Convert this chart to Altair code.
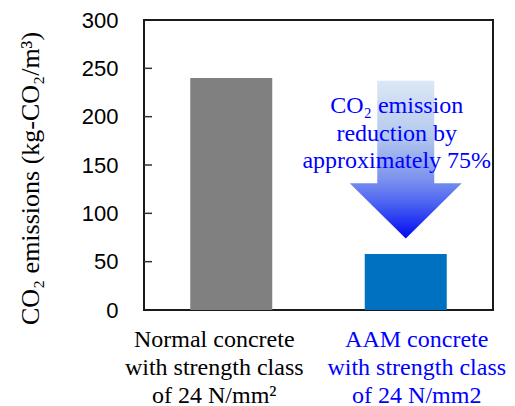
import altair as alt
import pandas as pd

# Concrete types (lines of each label separated by "|") and their CO2 emissions
categories = [
    "Normal concrete|with strength class|of 24 N/mm²",
    "AAM concrete|with strength class|of 24 N/mm2",
]
emissions = [240, 58]
bar_colors = ["#808080", "#0070c0"]
y_ticks = [0, 50, 100, 150, 200, 250, 300]
inner_ticks = [50, 100, 150, 200, 250]

# Reduction arrow extent, in kg-CO2/m3
arrow_top = 237
arrow_head_base = 131
arrow_tip = 74

note_lines = ["CO₂ emission", "reduction by", "approximately 75%"]

W, H = 349, 290
Y_MAX = 300
PX = H / Y_MAX  # pixels per kg-CO2/m3

SERIF = "Liberation Serif, Times New Roman, serif"
SANS = "Liberation Sans, Arial, sans-serif"

bars_df = pd.DataFrame({"category": categories, "emission": emissions})
ticks_df = pd.DataFrame({"emission": inner_ticks})

x_enc = alt.X(
    "category:N",
    sort=categories,
    scale=alt.Scale(domain=categories, paddingInner=0.53, paddingOuter=0.265),
    axis=alt.Axis(
        title=None,
        labelExpr="split(datum.label, '|')",
        labelAngle=0,
        labelFont=SERIF,
        labelFontSize=24,
        labelLineHeight=28,
        labelBaseline="top",
        labelPadding=17,
        labelLimit=0,
        labelOverlap=False,
        labelColor={
            "condition": {"test": "indexof(datum.value, 'AAM') == 0", "value": "#0000ff"},
            "value": "#000000",
        },
        labelOffset={
            "condition": {"test": "indexof(datum.value, 'AAM') == 0", "value": 11},
            "value": -17,
        },
        ticks=False,
        domain=False,
    ),
)

y_enc = alt.Y(
    "emission:Q",
    scale=alt.Scale(domain=[0, Y_MAX], nice=False, zero=True),
    axis=alt.Axis(
        values=y_ticks,
        title="CO₂ emissions (kg-CO₂/m³)",
        titleFont=SERIF,
        titleFontSize=26,
        titleFontWeight="normal",
        titleColor="#000000",
        titleAngle=270,
        titleAlign="center",
        titleBaseline="middle",
        titleX=-114,
        titleY=158,
        labelFont=SANS,
        labelFontSize=22,
        labelColor="#000000",
        labelPadding=26,
        ticks=False,
        domain=False,
        grid=False,
    ),
)

bars = alt.Chart(bars_df).mark_bar().encode(
    x=x_enc,
    y=y_enc,
    color=alt.Color(
        "category:N",
        scale=alt.Scale(domain=categories, range=bar_colors),
        legend=None,
    ),
)

# Inward-pointing tick marks on the left edge of the frame
ticks = alt.Chart(ticks_df).mark_rule(color="#333333", strokeWidth=1.5).encode(
    y=alt.Y("emission:Q"),
    x=alt.value(0),
    x2=alt.value(8),
)

# Block arrow drawn as one custom symbol, anchored at the base of its head
K = 100.0  # pixels per path unit (symbol size = (2K)^2)
shaft_hw = 28.5 / K
head_hw = 56.0 / K
top = -(arrow_top - arrow_head_base) * PX / K
tip = (arrow_head_base - arrow_tip) * PX / K
arrow_path = (
    f"M {-shaft_hw:.3f} {top:.3f} L {shaft_hw:.3f} {top:.3f} "
    f"L {shaft_hw:.3f} 0 L {head_hw:.3f} 0 L 0 {tip:.3f} "
    f"L {-head_hw:.3f} 0 L {-shaft_hw:.3f} 0 Z"
)

arrow_fill = alt.Gradient(
    gradient="linear",
    x1=0, y1=0, x2=0, y2=1,
    stops=[
        alt.GradientStop(color="#dce8f6", offset=0.0),
        alt.GradientStop(color="#b4c9ec", offset=0.35),
        alt.GradientStop(color="#7d93ee", offset=0.62),
        alt.GradientStop(color="#4a62f2", offset=0.78),
        alt.GradientStop(color="#0008f0", offset=1.0),
    ],
)

arrow = alt.Chart(pd.DataFrame({"a": [0]})).mark_point(
    shape=arrow_path,
    size=(2 * K) ** 2,
    filled=True,
    fill=arrow_fill,
    opacity=1,
    strokeWidth=0,
    dx=1,
).encode(
    x=alt.datum(categories[1]),
    y=alt.datum(arrow_head_base),
)

note = alt.Chart(pd.DataFrame({"a": [0]})).mark_text(
    text=note_lines,
    font=SERIF,
    fontSize=24,
    lineHeight=27.5,
    color="#0000ff",
    align="center",
    baseline="alphabetic",
    dx=-9,
).encode(
    x=alt.datum(categories[1]),
    y=alt.value(93),
)

chart = (
    alt.layer(bars, ticks, arrow, note)
    .properties(
        width=W,
        height=H,
        autosize=alt.AutoSizeParams(type="none"),
        padding={"left": 144, "top": 20, "right": 22, "bottom": 96},
    )
    .configure_view(stroke="#1a1a1a", strokeWidth=2)
    .configure_text(font=SERIF)
)

chart.save("out.html", embed_options={"renderer": "svg", "actions": False})
